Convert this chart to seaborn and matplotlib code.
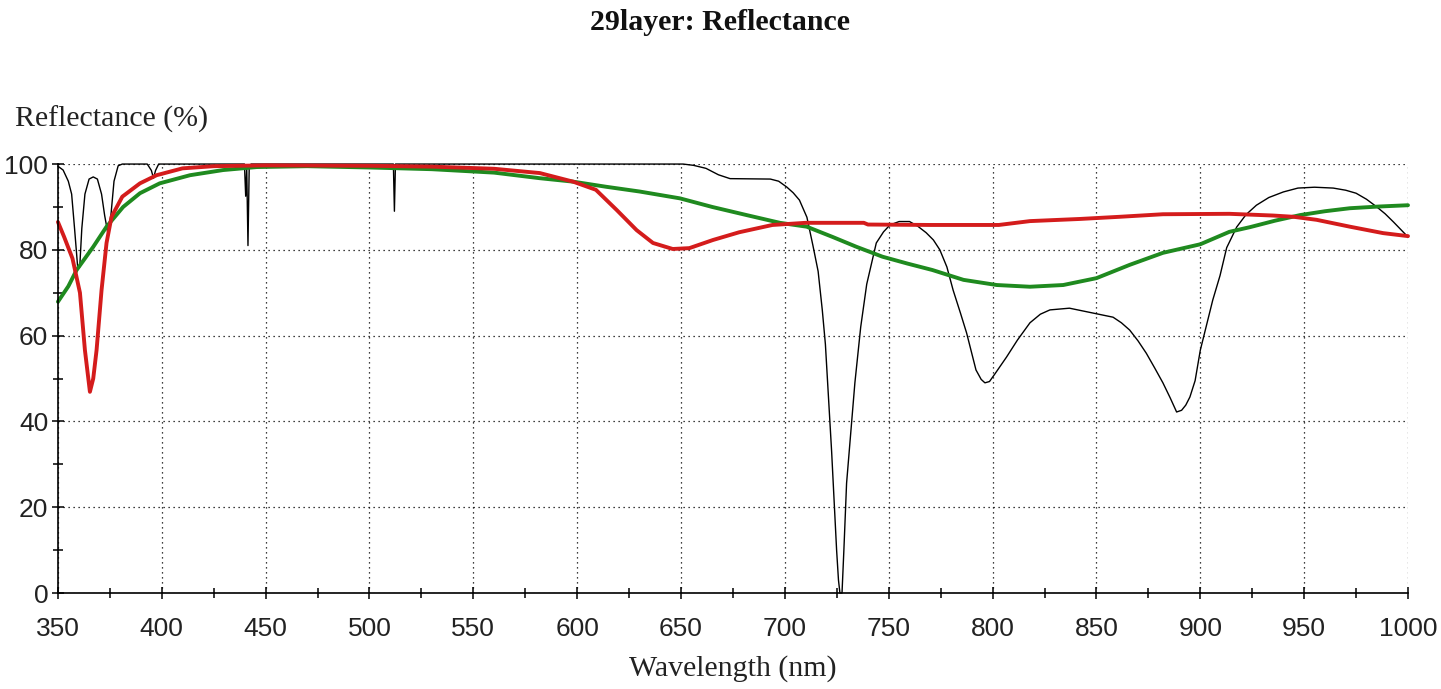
#!/usr/bin/env python
"""
Recreate the 29layer reflectance chart.
"""
# Third-party
import matplotlib

matplotlib.use("Agg")
import matplotlib.pyplot as plt
import matplotlib.ticker as ticker
import seaborn as sns

# Data (wavelength in nm, reflectance in %)
black_wl = [
    350, 352.5, 355, 356.6, 358, 359.5, 360.5, 361.5, 363, 365, 367, 369,
    371, 372.5, 374, 375.5, 377, 379, 381, 393, 395, 396, 397, 398.5,
    439.8, 440.4, 440.9, 441.5, 442.1, 443, 511.5, 512, 512.5, 651, 656,
    662, 668, 673.6, 693, 697, 701, 704, 707, 710.6, 713.5, 716, 718,
    719.5, 722.5, 724.9, 725.8, 726.5, 727.5, 728.4, 729.7, 733.7, 736.5,
    739.4, 744, 747.5, 750.6, 755, 760, 764, 768, 771.5, 774.6, 778, 781,
    784.5, 787.5, 792, 794.5, 796.3, 798.5, 801, 806.7, 812, 818, 823, 827.6,
    837, 848, 858, 862, 866, 870, 874, 878, 882, 885.5, 888.6, 891, 893,
    895, 897.5, 900, 906, 909.5, 912.7, 917.5, 922, 927, 933, 940, 947, 955,
    964, 970, 975, 980, 985, 989, 993, 997, 1000,
]
black_r = [
    99.5, 98.6, 96, 93, 85, 76, 76, 85, 93, 96.5, 97, 96.5,
    93, 88, 84, 88, 96, 99.6, 100, 100, 98.5, 96.7, 98.5, 100,
    100, 92.5, 99, 81, 99.5, 100, 100, 89, 100, 100, 99.7,
    99, 97.5, 96.6, 96.5, 96, 94.6, 93.3, 91.6, 87.6, 81, 75, 66,
    58, 33, 10, 3, 0, 0, 10, 25.6, 49, 62,
    72, 81.6, 84.2, 85.8, 86.6, 86.6, 85.5, 84, 82.3, 80, 76, 70.6,
    65.3, 60.6, 52, 49.8, 49, 49.3, 51, 55, 59, 63, 65, 66,
    66.4, 65.3, 64.3, 63, 61.3, 58.8, 55.9, 52.5, 49, 45.5, 42.2, 42.6, 43.8,
    45.7, 49.5, 56.6, 68.3, 74, 80.5, 85.3, 88.2, 90.4, 92.2, 93.5, 94.4, 94.6,
    94.4, 93.9, 93.2, 91.8, 90, 88.4, 86.5, 84.5, 83,
]

red_wl = [
    350, 353, 357, 360.6, 363, 365.4, 367, 368.6, 371, 373.4, 375.8, 381,
    389.5, 397.5, 410, 425, 450, 500, 530, 560, 582, 598, 609, 619, 628.6,
    636.5, 646, 654, 665.4, 678, 694, 710, 738, 740, 770, 803, 818, 842,
    861, 882, 914, 935, 945, 956, 972, 988, 1000,
]
red_r = [
    86.5, 83, 78, 70, 56.6, 46.9, 50, 56.6, 70.6, 81.6, 87.7, 92.4,
    95.5, 97.4, 99, 99.5, 99.7, 99.6, 99.4, 98.9, 97.9, 95.9, 94, 89.3, 84.6,
    81.6, 80.2, 80.4, 82.3, 84.1, 85.8, 86.3, 86.3, 85.9, 85.8, 85.8, 86.7,
    87.2, 87.7, 88.3, 88.4, 88, 87.7, 87, 85.4, 83.9, 83.2,
]

green_wl = [
    350, 355, 359, 367, 373.4, 381.4, 389.5, 399, 413.6, 429.5, 445.7, 470,
    500, 530, 560, 582, 598, 614, 630, 649.5, 665, 681.6, 697.6, 710.5, 723,
    734.5, 747, 759, 771, 786, 802, 818, 834, 850, 866, 882, 900, 914, 924,
    936, 948, 960, 972, 986, 1000,
]
green_r = [
    67.9, 71.5, 75.3, 80.7, 85.4, 90, 93.2, 95.5, 97.4, 98.6, 99.3, 99.5,
    99.2, 98.8, 98, 96.7, 95.9, 94.7, 93.6, 92, 90, 88.1, 86.3, 85.4, 83,
    80.7, 78.4, 76.8, 75.3, 73, 71.8, 71.4, 71.8, 73.4, 76.5, 79.3, 81.3,
    84.2, 85.3, 86.8, 88.1, 89, 89.7, 90.1, 90.4,
]

x_ticks = list(range(350, 1001, 50))
y_ticks = list(range(0, 101, 20))

sns.set_theme(style="white")
plt.rcParams["font.family"] = ["Liberation Sans", "DejaVu Sans"]

fig = plt.figure(figsize=(14.41, 6.89), dpi=100)
ax = fig.add_axes([0.0402, 0.1393, 0.9369, 0.6226])

# Curves: black first, then green, red on top
sns.lineplot(x=black_wl, y=black_r, ax=ax, color="black", linewidth=1.0,
             estimator=None, sort=False)
sns.lineplot(x=green_wl, y=green_r, ax=ax, color="#1f8a1f", linewidth=2.8,
             estimator=None, sort=False)
sns.lineplot(x=red_wl, y=red_r, ax=ax, color="#d41c1c", linewidth=2.8,
             estimator=None, sort=False)
for line in ax.lines:
    line.set_clip_on(False)

ax.set_xlim(350, 1000)
ax.set_ylim(0, 100)
ax.set_xticks(x_ticks)
ax.set_yticks(y_ticks)
ax.xaxis.set_minor_locator(ticker.MultipleLocator(25))
ax.yaxis.set_minor_locator(ticker.MultipleLocator(10))

ax.grid(True, which="major", color="black", linestyle=(0, (1, 3)),
        linewidth=0.9)
ax.set_axisbelow(True)

for side in ["top", "right"]:
    ax.spines[side].set_visible(False)
for side in ["left", "bottom"]:
    ax.spines[side].set_color("black")
    ax.spines[side].set_linewidth(1.2)

ax.tick_params(axis="both", which="both", direction="inout", color="black",
               width=1.1, bottom=True, left=True)
ax.tick_params(axis="both", which="major", length=8, labelsize=19,
               labelcolor="#222222")
ax.tick_params(axis="both", which="minor", length=7)
ax.tick_params(axis="x", which="major", pad=13)
ax.tick_params(axis="y", which="major", pad=3)

serif = ["Liberation Serif", "DejaVu Serif"]
ax.set_xlabel("Wavelength (nm)", fontsize=21.5, family=serif,
              color="#222222", va="center")
ax.xaxis.set_label_coords(0.5, -0.175)
ax.set_ylabel("Reflectance (%)", fontsize=21.5, family=serif,
              color="#222222", rotation=0, ha="left", va="center")
ax.yaxis.set_label_coords(-0.0319, 1.105)

fig.suptitle("29layer: Reflectance", x=0.5, y=1 - 22 / 689, va="center",
             fontsize=21.5, fontweight="bold", family=serif, color="#111111")

plt.savefig("out.png", dpi=100)
